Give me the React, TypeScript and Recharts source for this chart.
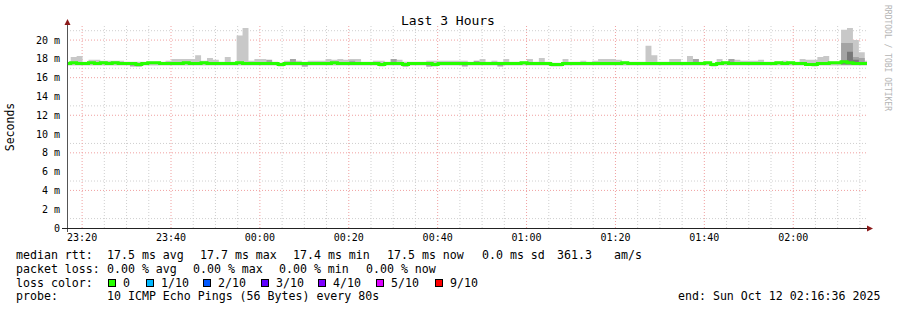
import { ComposedChart, Area, Line, XAxis, YAxis, CartesianGrid } from "recharts";

// one row every 80 s, seconds counted from the left edge (23:16:36)
const stepSeconds = 80;
const firstStepAt = -30;
const rangeSeconds = 10800;

// highest ping of each step (ms)
const smokeMax = [
  17.7, 18.2, 18.3, 17.7, 17.9, 17.9, 17.8, 17.8, 17.8, 17.8,
  17.7, 17.7, 17.7, 17.7, 17.7, 17.7, 17.7, 17.8, 18.0, 18.0,
  18.0, 18.0, 18.4, 17.8, 18.1, 17.9, 17.7, 18.2, 17.7, 20.5,
  21.3, 17.8, 18.0, 18.0, 17.7, 17.7, 17.6, 17.8, 18.0, 17.8,
  17.7, 17.8, 17.8, 17.8, 18.0, 17.9, 18.0, 17.9, 18.0, 18.0,
  17.7, 17.7, 17.8, 17.8, 17.7, 18.0, 17.9, 17.7, 17.7, 17.7,
  17.7, 17.8, 17.8, 17.8, 17.8, 17.8, 17.8, 17.8, 17.7, 17.7,
  18.0, 17.7, 17.8, 17.7, 18.0, 17.7, 17.7, 17.7, 18.0, 17.7,
  18.1, 17.7, 17.6, 17.6, 18.0, 17.7, 17.7, 17.8, 17.7, 17.8,
  18.0, 18.0, 18.0, 17.9, 17.7, 17.7, 17.7, 17.7, 19.4, 18.4,
  17.7, 17.7, 18.0, 18.0, 17.7, 18.3, 18.0, 17.7, 17.7, 17.6,
  18.0, 17.7, 18.0, 17.9, 17.8, 17.8, 17.8, 17.9, 17.7, 17.7,
  17.7, 17.8, 17.7, 17.7, 18.0, 17.9, 17.9, 18.2, 18.3, 17.7,
  17.7, 21.1, 21.3, 20.0, 18.7, 17.8, 17.8
];

// lowest ping of each step (ms)
const smokeMin = [
  17.3, 17.3, 17.3, 17.3, 17.3, 17.3, 17.3, 17.3, 17.3, 17.3,
  17.3, 17.3, 17.2, 17.3, 17.3, 17.3, 17.3, 17.3, 17.3, 17.3,
  17.3, 17.3, 17.3, 17.3, 17.3, 17.3, 17.3, 17.3, 17.3, 17.3,
  17.3, 17.3, 17.3, 17.3, 17.3, 17.3, 17.2, 17.3, 17.3, 17.3,
  17.2, 17.3, 17.3, 17.3, 17.3, 17.3, 17.3, 17.3, 17.3, 17.3,
  17.3, 17.3, 17.3, 17.2, 17.3, 17.3, 17.3, 17.2, 17.3, 17.3,
  17.3, 17.2, 17.2, 17.3, 17.3, 17.3, 17.3, 17.3, 17.3, 17.3,
  17.3, 17.3, 17.3, 17.3, 17.3, 17.3, 17.3, 17.3, 17.3, 17.3,
  17.3, 17.3, 17.2, 17.2, 17.3, 17.3, 17.3, 17.3, 17.3, 17.3,
  17.3, 17.3, 17.3, 17.3, 17.3, 17.3, 17.3, 17.3, 17.3, 17.3,
  17.3, 17.3, 17.3, 17.3, 17.3, 17.3, 17.3, 17.3, 17.3, 17.2,
  17.3, 17.3, 17.3, 17.3, 17.3, 17.3, 17.3, 17.3, 17.3, 17.3,
  17.3, 17.3, 17.3, 17.3, 17.3, 17.3, 17.2, 17.3, 17.3, 17.3,
  17.3, 17.3, 17.3, 17.3, 17.3, 17.3, 17.3
];

// median rtt of each step (ms)
const median = [
  17.5, 17.6, 17.5, 17.5, 17.6, 17.5, 17.6, 17.5, 17.6, 17.5,
  17.5, 17.5, 17.4, 17.5, 17.6, 17.6, 17.5, 17.5, 17.5, 17.5,
  17.6, 17.5, 17.5, 17.6, 17.5, 17.5, 17.5, 17.5, 17.5, 17.6,
  17.5, 17.5, 17.5, 17.5, 17.5, 17.5, 17.4, 17.5, 17.5, 17.5,
  17.5, 17.5, 17.5, 17.5, 17.5, 17.6, 17.5, 17.5, 17.5, 17.5,
  17.5, 17.5, 17.5, 17.4, 17.5, 17.5, 17.5, 17.4, 17.5, 17.5,
  17.5, 17.5, 17.4, 17.5, 17.5, 17.5, 17.5, 17.5, 17.5, 17.5,
  17.5, 17.5, 17.5, 17.5, 17.5, 17.5, 17.5, 17.6, 17.5, 17.5,
  17.5, 17.5, 17.4, 17.4, 17.5, 17.5, 17.5, 17.5, 17.5, 17.5,
  17.5, 17.5, 17.5, 17.5, 17.6, 17.5, 17.5, 17.5, 17.5, 17.5,
  17.5, 17.5, 17.5, 17.5, 17.5, 17.5, 17.5, 17.5, 17.6, 17.4,
  17.5, 17.6, 17.5, 17.5, 17.5, 17.5, 17.5, 17.5, 17.5, 17.5,
  17.6, 17.5, 17.6, 17.5, 17.5, 17.4, 17.4, 17.5, 17.5, 17.6,
  17.6, 17.7, 17.6, 17.5, 17.5, 17.5, 17.5
];

// steps where the denser (darker) smoke shows
const innerSteps = [11, 12, 34, 38, 40, 48, 55, 57, 61, 67, 69, 73, 106, 112, 131, 132, 133, 134];
const innerLow = [17.2, 17.2, 17.4, 17.4, 17.2, 17.4, 17.4, 17.2, 17.2, 17.2, 17.4, 17.2, 17.4, 17.4, 17.4, 17.4, 17.4, 17.4];
const innerHigh = [17.5, 17.5, 17.9, 18.0, 17.5, 17.8, 18.0, 17.5, 17.5, 17.5, 17.8, 17.5, 18.0, 18.0, 19.7, 19.7, 18.2, 18.1];

const coreSteps = [131, 132, 133];
const coreLow = [17.4, 17.4, 17.4];
const coreHigh = [17.8, 18.75, 17.9];

const yTicks = [0, 2, 4, 6, 8, 10, 12, 14, 16, 18, 20];
const xTicks = [204, 1404, 2604, 3804, 5004, 6204, 7404, 8604, 9804];
const xTickLabels = ["23:20", "23:40", "00:00", "00:20", "00:40", "01:00", "01:20", "01:40", "02:00"];

const lossLabels = ["0", "1/10", "2/10", "3/10", "4/10", "5/10", "9/10"];
const lossColors = ["#26ff00", "#00b8ff", "#0059ff", "#5e00ff", "#7e00ff", "#dd00ff", "#ff0000"];
const lossBoxX = [108, 146, 203, 261, 318, 376, 435];

const xMinor: number[] = [];
for (let s = 204; s < rangeSeconds; s += 300) xMinor.push(s);
const yMinor: number[] = [];
for (let v = 1; v < 22; v += 2) yMinor.push(v);

const rows = median.map((m, i) => {
  const k = innerSteps.indexOf(i);
  const c = coreSteps.indexOf(i);
  return {
    t: firstStepAt + i * stepSeconds,
    smoke: [smokeMin[i], smokeMax[i]],
    inner: k >= 0 ? [innerLow[k], innerHigh[k]] : [m, m],
    core: c >= 0 ? [coreLow[c], coreHigh[c]] : [m, m],
    median: m
  };
});

const mono = "'DejaVu Sans Mono', monospace";

const App = () => {
  return (
    <div style={{ position: "absolute", left: 0, top: 0, width: 897, height: 310, background: "#fff" }}>
      <ComposedChart
        width={897}
        height={310}
        data={rows}
        margin={{ top: 26, right: 30, bottom: 62, left: 7 }}
        style={{ position: "absolute", left: 0, top: 0 }}
      >
        <CartesianGrid
          horizontalValues={yMinor}
          verticalValues={xMinor}
          stroke='#cfcfcf'
          strokeDasharray='1 2'
        />
        <CartesianGrid
          horizontalValues={yTicks.filter((v) => v > 0)}
          verticalValues={xTicks}
          stroke='#f0a0a0'
          strokeDasharray='1 2'
        />
        <XAxis
          type='number'
          dataKey='t'
          domain={[0, rangeSeconds]}
          allowDataOverflow
          ticks={xTicks}
          tickFormatter={(v) => xTickLabels[xTicks.indexOf(v)]}
          axisLine={false}
          tickLine={false}
          tickMargin={0}
          height={20}
          tick={{ fontFamily: mono, fontSize: 10, fill: "#000" }}
        />
        <YAxis
          domain={[0, 21.5]}
          allowDataOverflow
          ticks={yTicks}
          tickFormatter={(v) => (v === 0 ? "0" : `${v} m`)}
          axisLine={false}
          tickLine={false}
          tickMargin={1}
          width={60}
          tick={{ fontFamily: mono, fontSize: 10, fill: "#000" }}
        />
        <Area type='stepAfter' dataKey='smoke' fill='#c8c8c8' fillOpacity={1} stroke='none' isAnimationActive={false} activeDot={false} />
        <Area type='stepAfter' dataKey='inner' fill='#a4a4a4' fillOpacity={1} stroke='none' isAnimationActive={false} activeDot={false} />
        <Area type='stepAfter' dataKey='core' fill='#787878' fillOpacity={1} stroke='none' isAnimationActive={false} activeDot={false} />
        <Line type='stepAfter' dataKey='median' stroke='#26ff00' strokeWidth={3} dot={false} activeDot={false} isAnimationActive={false} />
      </ComposedChart>

      <svg width={897} height={310} style={{ position: "absolute", left: 0, top: 0, pointerEvents: "none" }} fontFamily={mono}>
        {/* axes with arrows */}
        <line x1={67.5} y1={24} x2={67.5} y2={232} stroke='#555' strokeWidth={1} />
        <line x1={62} y1={228.5} x2={868} y2={228.5} stroke='#222' strokeWidth={1} />
        <polygon points='67.5,19 64.5,25 70.5,25' fill='#8b1a1a' />
        <polygon points='873,228.5 867,225.5 867,231.5' fill='#8b1a1a' />

        <text x={448} y={24.5} textAnchor='middle' fontSize={13} fill='#000'>
          Last 3 Hours
        </text>
        <text x={14} y={127} textAnchor='middle' fontSize={11.5} fill='#000' transform='rotate(-90 14 127)'>
          Seconds
        </text>
        <text x={885} y={5} fontSize={8} fill='#b4b4b4' transform='rotate(90 885 5)'>
          RRDTOOL / TOBI OETIKER
        </text>

        <g fontSize={11.6} fill='#000'>
          <text x={16} y={258.5}>median rtt:</text>
          <text x={107} y={258.5}>17.5 ms avg</text>
          <text x={200} y={258.5}>17.7 ms max</text>
          <text x={293} y={258.5}>17.4 ms min</text>
          <text x={387} y={258.5}>17.5 ms now</text>
          <text x={482} y={258.5}>0.0 ms sd</text>
          <text x={557} y={258.5}>361.3</text>
          <text x={614} y={258.5}>am/s</text>

          <text x={16} y={272.5}>packet loss:</text>
          <text x={107} y={272.5}>0.00 % avg</text>
          <text x={193} y={272.5}>0.00 % max</text>
          <text x={279} y={272.5}>0.00 % min</text>
          <text x={366} y={272.5}>0.00 % now</text>

          <text x={16} y={286.5}>loss color:</text>
          {lossLabels.map((label, i) => (
            <g key={label}>
              <rect x={lossBoxX[i] + 0.5} y={279.5} width={7} height={7} fill={lossColors[i]} stroke='#000' strokeWidth={1} />
              <text x={lossBoxX[i] + 15} y={286.5}>
                {label}
              </text>
            </g>
          ))}

          <text x={16} y={300}>probe:</text>
          <text x={107} y={300}>10 ICMP Echo Pings (56 Bytes) every 80s</text>
          <text x={678} y={300}>end: Sun Oct 12 02:16:36 2025</text>
        </g>
      </svg>
    </div>
  );
};

export default App;
